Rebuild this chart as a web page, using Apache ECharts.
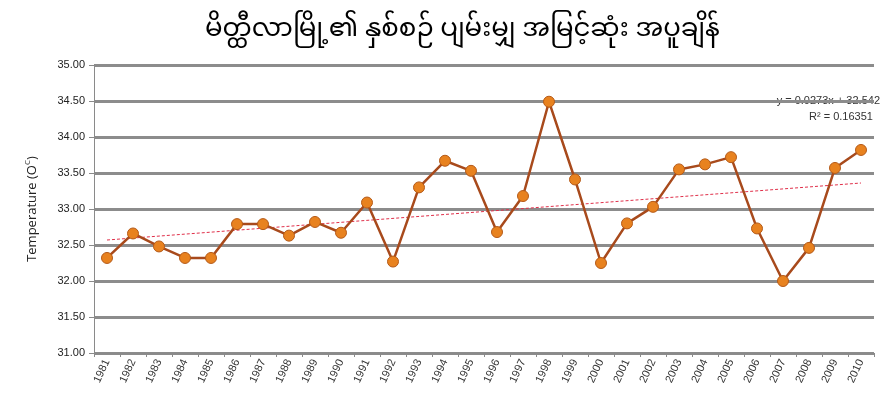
<!DOCTYPE html>
<html>
<head>
<meta charset="utf-8">
<script src="https://cdn.jsdelivr.net/npm/echarts@6/dist/echarts.min.js"></script>
<style>html,body{margin:0;padding:0;background:#fff;}#c{width:886px;height:412px;}</style>
</head>
<body>
<div id="c"></div>
<script>
const titleText = 'မိတ္ထီလာမြို့၏ နှစ်စဉ် ပျမ်းမျှ အမြင့်ဆုံး အပူချိန်';
const years = ['1981','1982','1983','1984','1985','1986','1987','1988','1989','1990','1991','1992','1993','1994','1995','1996','1997','1998','1999','2000','2001','2002','2003','2004','2005','2006','2007','2008','2009','2010'];
const temps = [32.32,32.66,32.48,32.32,32.32,32.79,32.79,32.63,32.82,32.67,33.09,32.27,33.30,33.67,33.53,32.68,33.18,34.49,33.41,32.25,32.80,33.03,33.55,33.62,33.72,32.73,32.00,32.46,33.57,33.82];
const trendSlope = 0.0273;
const trendIntercept = 32.542;
const trendLabel = ['y = 0.0273x + 32.542', 'R² = 0.16351'];
const yTicks = {min: 31, max: 35, interval: 0.5};

const trend = years.map((y, i) => +(trendSlope * (i + 1) + trendIntercept).toFixed(4));

const chart = echarts.init(document.getElementById('c'));
chart.setOption({
  backgroundColor: '#ffffff',
  animation: false,
  title: {
    text: titleText,
    left: 200,
    top: 15,
    textStyle: {fontSize: 26, fontWeight: 'normal', color: '#000', fontFamily: 'Noto Sans Myanmar, Padauk, Myanmar Text, Noto Sans, sans-serif'}
  },
  grid: {left: 94, right: 12, top: 65, bottom: 59},
  xAxis: {
    type: 'category',
    data: years,
    boundaryGap: true,
    axisLine: {lineStyle: {color: '#8a8a8a', width: 1}},
    axisTick: {show: true, length: 4, lineStyle: {color: '#8a8a8a'}},
    axisLabel: {rotate: 65, fontSize: 11, color: '#333', fontFamily: 'Liberation Sans Narrow, Arial Narrow, sans-serif', margin: 7, interval: 0},
    splitLine: {show: false}
  },
  yAxis: {
    type: 'value',
    min: yTicks.min, max: yTicks.max, interval: yTicks.interval,
    name: '{a|Temperature (O}{s|C}{a|)}',
    nameLocation: 'middle',
    nameGap: 54,
    nameRotate: 90,
    nameTextStyle: {rich: {
      a: {fontSize: 13, color: '#222', fontFamily: 'Open Sans, sans-serif'},
      s: {fontSize: 8, color: '#222', fontFamily: 'Open Sans, sans-serif', verticalAlign: 'top', padding: [0, 0, 8, 0]}
    }},
    axisLine: {show: true, lineStyle: {color: '#8a8a8a', width: 1}},
    axisTick: {show: true, length: 5, lineStyle: {color: '#8a8a8a'}},
    axisLabel: {formatter: v => v.toFixed(2), fontSize: 11, color: '#222', fontFamily: 'Liberation Sans Narrow, Arial Narrow, sans-serif', margin: 9},
    splitLine: {show: true, lineStyle: {color: '#8c8c8c', width: 3}}
  },
  graphic: [
    {type: 'text', right: 6, top: 95, style: {text: trendLabel[0], fill: '#333', font: '11px "Liberation Sans Narrow", sans-serif'}},
    {type: 'text', left: 809, top: 111, style: {text: trendLabel[1], fill: '#333', font: '11px "Liberation Sans Narrow", sans-serif'}}
  ],
  series: [
    {
      type: 'line',
      data: temps,
      symbol: 'circle',
      symbolSize: 11,
      lineStyle: {color: '#a84a1c', width: 2.5},
      itemStyle: {color: '#e8821f', borderColor: '#b55a18', borderWidth: 1},
      z: 3
    },
    {
      type: 'line',
      data: trend,
      symbol: 'none',
      lineStyle: {color: '#e0304a', width: 1, type: [3, 2]},
      z: 2
    }
  ]
});
</script>
</body>
</html>
